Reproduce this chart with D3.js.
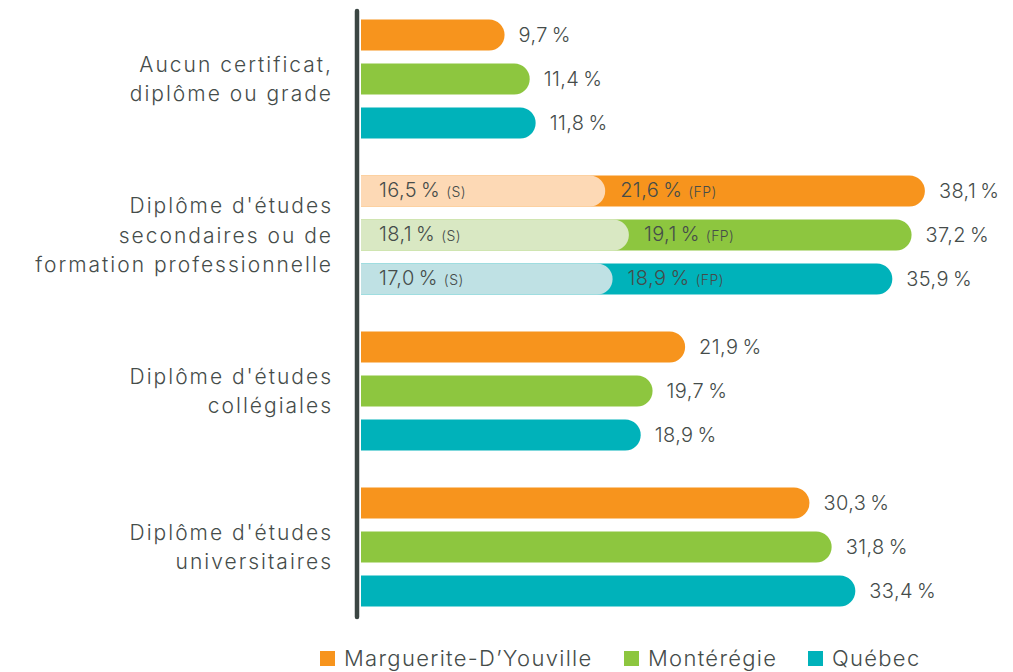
<!DOCTYPE html>
<html>
<head>
<meta charset="utf-8">
<script src="https://cdn.jsdelivr.net/npm/d3@7"></script>
<style>
  body { margin: 0; background: #fff; }
  .chart text { font-family: Inter, "Open Sans", sans-serif; font-weight: 300; fill: #454c4a; }
</style>
</head>
<body>
<svg class="chart" width="1013" height="672"></svg>
<script>
var categories = [
    ["Aucun certificat,", "diplôme ou grade"],
    ["Diplôme d'études", "secondaires ou de", "formation professionnelle"],
    ["Diplôme d'études", "collégiales"],
    ["Diplôme d'études", "universitaires"]
]
var series = ["Marguerite-D’Youville", "Montérégie", "Québec"]
var totals = [
    [9.7, 11.4, 11.8],
    [38.1, 37.2, 35.9],
    [21.9, 19.7, 18.9],
    [30.3, 31.8, 33.4]
]
// split of the second group : secondaire (S) / formation professionnelle (FP)
var secondaire = [16.5, 18.1, 17.0]
var formationPro = [21.6, 19.1, 18.9]

var colors = ["#f7941d", "#8dc63f", "#00b2ba"]
var lightColors = ["#fdd9b5", "#d9e8c3", "#bfe1e4"]

function fmt(v) {
    return v.toFixed(1).replace(".", ",") + "\u2009%"
}

var svg = d3.select(".chart")

var x = d3.scaleLinear()
    .domain([0, 40])
    .range([361, 953])

var y0 = d3.scaleBand()
    .domain(d3.range(categories.length))
    .range([19.5, 606.5])
    .paddingInner(37 / 156)

var y1 = d3.scaleBand()
    .domain(d3.range(series.length))
    .range([0, y0.bandwidth()])
    .paddingInner(13 / 44)

function barPath(xa, xb, top, h) {
    var r = h / 2
    return "M" + xa + "," + top +
        "H" + (xb - r) +
        "A" + r + "," + r + " 0 0 1 " + (xb - r) + "," + (top + h) +
        "H" + xa + "Z"
}

var rows = []
totals.forEach(function(vals, gi) {
    vals.forEach(function(v, si) {
        rows.push({g: gi, s: si, v: v})
    })
})

var g = svg.selectAll(".row")
    .data(rows)
    .enter()
    .append("g")
    .attr("class", "row")
    .attr("transform", function(d) {
        return "translate(0," + (y0(d.g) + y1(d.s)) + ")"
    })

var h = y1.bandwidth()

g.append("path")
    .attr("d", function(d) { return barPath(x(0), x(d.v), 0, h) })
    .attr("fill", function(d) { return colors[d.s] })

// light part (S) on top of the split group
g.filter(function(d) { return d.g == 1 })
    .append("path")
    .attr("d", function(d) { return barPath(x(0), x(secondaire[d.s]), 0, h) })
    .attr("fill", function(d) { return lightColors[d.s] })

var inS = g.filter(function(d) { return d.g == 1 })
    .append("text")
    .attr("x", x(0) + 18)
    .attr("y", h / 2)
    .attr("dy", "0.36em")
    .style("letter-spacing", "0.4px")
inS.append("tspan").style("font-size", "20px").text(function(d) { return fmt(secondaire[d.s]) + " " })
inS.append("tspan").style("font-size", "14px").text("(S)")

var inFP = g.filter(function(d) { return d.g == 1 })
    .append("text")
    .attr("x", function(d) { return x(secondaire[d.s]) + 15 })
    .attr("y", h / 2)
    .attr("dy", "0.36em")
    .style("letter-spacing", "0.4px")
inFP.append("tspan").style("font-size", "20px").text(function(d) { return fmt(formationPro[d.s]) + " " })
inFP.append("tspan").style("font-size", "14px").text("(FP)")

g.append("text")
    .attr("x", function(d) { return x(d.v) + 14 })
    .attr("y", h / 2)
    .attr("dy", "0.36em")
    .style("font-size", "20px")
    .style("letter-spacing", "0.4px")
    .text(function(d) { return fmt(d.v) })

// category labels
svg.selectAll(".cat")
    .data(categories)
    .enter()
    .append("text")
    .attr("class", "cat")
    .attr("text-anchor", "end")
    .style("font-size", "21px")
    .style("letter-spacing", "2px")
    .each(function(lines, i) {
        var cy = y0(i) + y0.bandwidth() / 2
        var start = cy - (lines.length - 1) * 29.5 / 2
        d3.select(this).selectAll("tspan")
            .data(lines)
            .enter()
            .append("tspan")
            .attr("x", 333)
            .attr("y", function(d, j) { return start + j * 29.5 })
            .attr("dy", "0.36em")
            .text(function(d) { return d })
    })

// axis line
svg.append("line")
    .attr("x1", 357).attr("x2", 357)
    .attr("y1", 11).attr("y2", 617)
    .attr("stroke", "#3b4643")
    .attr("stroke-width", 4.5)
    .attr("stroke-linecap", "round")

// legend
var legendX = [320, 624, 808]
var lg = svg.selectAll(".legend")
    .data(series)
    .enter()
    .append("g")
    .attr("class", "legend")
    .attr("transform", function(d, i) { return "translate(" + legendX[i] + ",651)" })
lg.append("rect")
    .attr("width", 15).attr("height", 15)
    .attr("fill", function(d, i) { return colors[i] })
lg.append("text")
    .attr("x", 24)
    .attr("y", 15)
    .style("font-size", "22px")
    .style("letter-spacing", "1.3px")
    .text(function(d) { return d })
</script>
</body>
</html>
